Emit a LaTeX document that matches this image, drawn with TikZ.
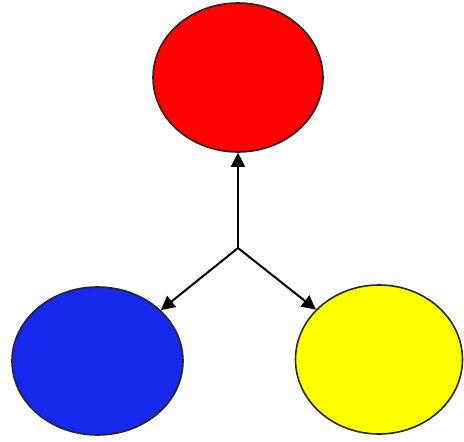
\documentclass[tikz,border=0pt]{standalone}
\usepackage{xcolor}
\usepackage{tikz}
\usetikzlibrary{shapes.geometric, arrows.meta, positioning, calc}
\definecolor{ballred}{RGB}{255, 0, 0}
\definecolor{ballblue}{RGB}{22, 40, 235}
\definecolor{ballyellow}{RGB}{255, 255, 0}

\tikzset{
    ball/.style={ellipse, draw=black!85, line width=1.6pt, minimum width=170pt, minimum height=149pt, inner sep=0pt},
    link/.style={-{Triangle[length=14pt, width=14pt]}, line width=2pt, black}
}

\begin{document}
\begin{tikzpicture}[x=1pt, y=-1pt]
        \useasboundingbox (0,0) rectangle (464,442);
        \node[ball, fill=ballred] (red) at (238,77.5) {};
        \node[ball, fill=ballblue, minimum width=171pt, minimum height=148pt] (blue) at (97.5,361) {};
        \node[ball, fill=ballyellow, minimum width=167pt] (yellow) at (379,359.5) {};
        \coordinate (hub) at (238,248);
        \draw[link] (hub) -- (red.south);
        \draw[link] (hub) -- (blue);
        \draw[link] (hub) -- (yellow);
    \end{tikzpicture}
\end{document}
